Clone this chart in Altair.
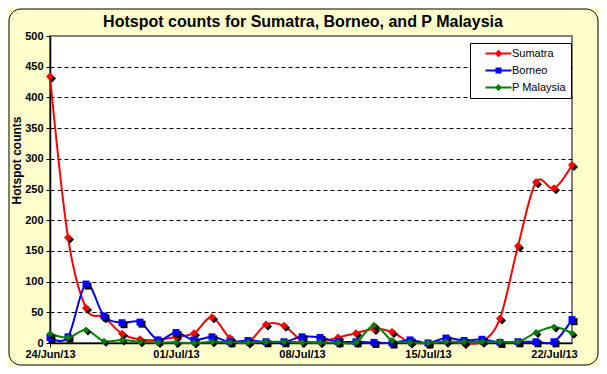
import altair as alt
import pandas as pd

DATES = [
    "2013-06-24", "2013-06-25", "2013-06-26", "2013-06-27", "2013-06-28",
    "2013-06-29", "2013-06-30", "2013-07-01", "2013-07-02", "2013-07-03",
    "2013-07-04", "2013-07-05", "2013-07-06", "2013-07-07", "2013-07-08",
    "2013-07-09", "2013-07-10", "2013-07-11", "2013-07-12", "2013-07-13",
    "2013-07-14", "2013-07-15", "2013-07-16", "2013-07-17", "2013-07-18",
    "2013-07-19", "2013-07-20", "2013-07-21", "2013-07-22", "2013-07-23",
]
SUMATRA = [434, 172, 57, 42, 15, 6, 5, 10, 16, 42, 8, 1, 30, 28, 4,
           2, 9, 16, 23, 18, 1, 0, 2, 0, 2, 40, 158, 262, 252, 290]
BORNEO = [9, 10, 96, 44, 33, 34, 5, 17, 5, 10, 2, 4, 2, 2, 10,
          9, 2, 2, 1, 0, 5, 0, 8, 4, 6, 1, 2, 2, 2, 38]
P_MALAYSIA = [15, 9, 21, 3, 5, 2, 1, 1, 0, 2, 1, 1, 2, 2, 1,
              1, 1, 1, 29, 4, 1, 0, 2, 2, 2, 2, 2, 17, 26, 16]

SERIES = ["Sumatra", "Borneo", "P Malaysia"]
COLORS = ["#FF0000", "#0000FF", "#008000"]
SHAPES = ["diamond", "square", "diamond"]
SIZES = [64, 49, 49]
LEGEND_PATHS = [
    "M-2.6,-0.2H2.6V0.2H-2.6Z M0,-0.75L0.75,0L0,0.75L-0.75,0Z",
    "M-2.6,-0.2H2.6V0.2H-2.6Z M-0.6,-0.6H0.6V0.6H-0.6Z",
    "M-2.6,-0.2H2.6V0.2H-2.6Z M0,-0.7L0.7,0L0,0.7L-0.7,0Z",
]
X_TICKS = [(2013, 6, 24), (2013, 7, 1), (2013, 7, 8), (2013, 7, 15), (2013, 7, 22)]
X_DOMAIN = [(2013, 6, 24), (2013, 7, 23)]
Y_TICKS = list(range(0, 501, 50))

VALUES = {"Sumatra": SUMATRA, "Borneo": BORNEO, "P Malaysia": P_MALAYSIA}
rows = []
for s in SERIES:
    for d, v in zip(DATES, VALUES[s]):
        rows.append({"date": d + "T00:00:00", "series": s, "value": v})
df = pd.DataFrame(rows)

FONT = "Liberation Sans"


def dt(t):
    return alt.DateTime(year=t[0], month=t[1], date=t[2])


x_enc = alt.X(
    "date:T",
    scale=alt.Scale(domain=[dt(t) for t in X_DOMAIN], nice=False),
    axis=alt.Axis(
        values=[dt(t) for t in X_TICKS], format="%d/%b/%y", title=None,
        grid=False, labelFont=FONT, labelFontSize=11, labelFontWeight="bold",
        labelColor="black", tickColor="black", tickSize=4, labelPadding=1,
        domainColor="black", domainWidth=1.5, labelFlush=False,
        labelOverlap=False,
    ),
)
y_enc = alt.Y(
    "value:Q",
    scale=alt.Scale(domain=[0, 500], nice=False),
    axis=alt.Axis(
        values=Y_TICKS, title="Hotspot counts", titleFont=FONT,
        titleFontSize=12, titleFontWeight="bold", titleColor="black",
        titleX=-34, titleY=124, titleAngle=-90, titleAlign="center",
        titleBaseline="middle",
        labelFont=FONT, labelFontSize=11, labelFontWeight="bold",
        labelColor="black", tickColor="black", tickSize=4, labelPadding=3,
        domainColor="black", domainWidth=1.5,
        gridColor="black", gridDash=[4, 3], gridWidth=1,
        gridOpacity=alt.condition("datum.value == 0 || datum.value == 500",
                                  alt.value(0), alt.value(1)),
    ),
)

base = alt.Chart(df)
layers = []

border = alt.Chart(pd.DataFrame({"k": [0]})).mark_rect(
    filled=False, stroke="black", strokeWidth=1, cornerRadius=12
).encode(x=alt.value(-41), x2=alt.value(548), y=alt.value(-27), y2=alt.value(329))
layers.append(border)

for s, c, sh, sz in zip(SERIES, COLORS, SHAPES, SIZES):
    sub = base.transform_filter(alt.datum.series == s)
    layers.append(sub.mark_line(color=c, strokeWidth=2, interpolate="cardinal")
                  .encode(x=x_enc, y=y_enc))
    layers.append(sub.mark_point(shape=sh, size=sz, filled=True, color="black",
                                 opacity=1, xOffset=2, yOffset=2)
                  .encode(x=x_enc, y=y_enc))
    layers.append(sub.mark_point(shape=sh, size=sz, filled=True, color=c, opacity=1)
                  .encode(x=x_enc, y=y_enc))

leg = alt.Legend(
    title=None, orient="none", legendX=420, legendY=7, fillColor="white",
    strokeColor="black", padding=5, symbolSize=100,
    symbolOffset=18, labelOffset=8, labelFont=FONT, labelFontSize=11,
    labelColor="black", rowPadding=5, symbolStrokeWidth=0, symbolOpacity=1,
)
legend_layer = base.transform_filter("false").mark_point(
    filled=True, opacity=1, strokeWidth=0
).encode(
    x=x_enc, y=y_enc,
    color=alt.Color("series:N", scale=alt.Scale(domain=SERIES, range=COLORS), legend=leg),
    shape=alt.Shape("series:N", scale=alt.Scale(domain=SERIES, range=LEGEND_PATHS), legend=leg),
)
layers.append(legend_layer)

chart = alt.layer(*layers).properties(
    width=522, height=307,
    background="#FFFFCC",
    autosize=alt.AutoSizeParams(type="none"),
    padding={"left": 42, "top": 28, "right": 27, "bottom": 23},
    title=alt.TitleParams(
        "Hotspot counts for Sumatra, Borneo, and P Malaysia", font=FONT,
        fontSize=16, fontWeight="bold", color="black", anchor="middle",
        frame="group", baseline="alphabetic", offset=-34.5, dx=-8,
    ),
).configure_view(fill="white", stroke="#808080", strokeWidth=2)

chart.save("out.html", embed_options={"renderer": "svg", "actions": False})
